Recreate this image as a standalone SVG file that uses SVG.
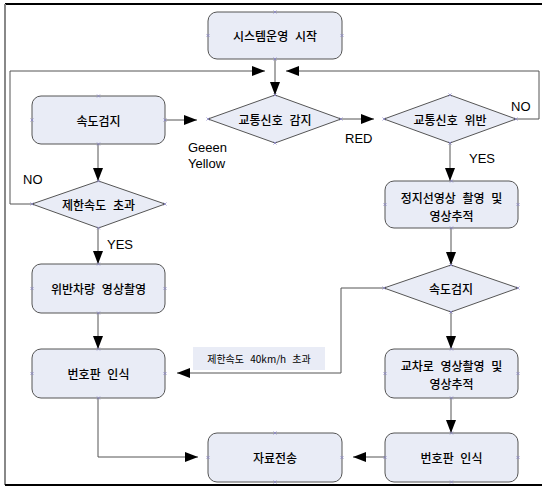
<svg xmlns="http://www.w3.org/2000/svg" xmlns:xlink="http://www.w3.org/1999/xlink" width="542" height="489" viewBox="0 0 542 489">
<style>
.node{fill:#e9ecf6;stroke:#555;stroke-width:1}
.kt{font-family:"Noto Sans CJK KR","Liberation Sans",sans-serif;font-size:12px;font-weight:500;word-spacing:4px;fill:#000;text-anchor:middle;dominant-baseline:central}
.lbl{font-family:"Liberation Sans",Arial,sans-serif;font-size:13px;fill:#000}
.conn{fill:none;stroke:#555;stroke-width:1}
.cp{stroke:#8a86c4;stroke-width:0.8;fill:none}
</style>
<defs>
<marker id="ah" markerUnits="userSpaceOnUse" markerWidth="13" markerHeight="10" refX="13" refY="5" orient="auto">
<path d="M0,0 L13,5 L0,10 z" fill="#000"/>
</marker>
<g id="x"><path class="cp" d="M-1.5,-1.5 L1.5,1.5 M-1.5,1.5 L1.5,-1.5"/></g>
</defs>
<g id="frame">
<line x1="5" y1="4" x2="542" y2="4" stroke="#000" stroke-width="2"/>
<line x1="5" y1="4" x2="5" y2="485" stroke="#888" stroke-width="2"/>
<line x1="5" y1="485" x2="542" y2="485" stroke="#000" stroke-width="2"/>
</g>
<g id="connectors">
<path class="conn" d="M275,59 V95" marker-end="url(#ah)"/>
<path class="conn" d="M32,204 H10 V71 H265" marker-end="url(#ah)"/>
<path class="conn" d="M516,119 H539 V71 H286" marker-end="url(#ah)"/>
<path class="conn" d="M165,120 H197" marker-end="url(#ah)"/>
<path class="conn" d="M341,119 H374" marker-end="url(#ah)"/>
<path class="conn" d="M98,144 V181" marker-end="url(#ah)"/>
<path class="conn" d="M98,228 V264" marker-end="url(#ah)"/>
<path class="conn" d="M98,313 V349" marker-end="url(#ah)"/>
<path class="conn" d="M98,398 V457 H198" marker-end="url(#ah)"/>
<path class="conn" d="M450,143 V181" marker-end="url(#ah)"/>
<path class="conn" d="M451,228 V265" marker-end="url(#ah)"/>
<path class="conn" d="M384,288 H341 V373 H177" marker-end="url(#ah)"/>
<path class="conn" d="M451,312 V349" marker-end="url(#ah)"/>
<path class="conn" d="M451,398 V433" marker-end="url(#ah)"/>
<path class="conn" d="M385,457 H353" marker-end="url(#ah)"/>
</g>
<g id="labels">
<text class="lbl" x="188" y="152">Geeen</text>
<text class="lbl" x="188" y="168">Yellow</text>
<text class="lbl" x="23" y="184">NO</text>
<text class="lbl" x="107" y="249">YES</text>
<text class="lbl" x="345" y="143">RED</text>
<text class="lbl" x="511" y="111">NO</text>
<text class="lbl" x="469" y="163">YES</text>
</g>
<g id="n-start">
<rect class="node" x="208" y="12" width="134" height="47" rx="9"/>
<text class="kt" x="275" y="35.5">시스템운영 시작</text>
<use xlink:href="#x" x="275" y="12"/><use xlink:href="#x" x="275" y="59"/><use xlink:href="#x" x="208" y="35.5"/><use xlink:href="#x" x="342" y="35.5"/>
</g>
<g id="n-speed1">
<rect class="node" x="32" y="96" width="133" height="48" rx="9"/>
<text class="kt" x="98.5" y="120">속도검지</text>
<use xlink:href="#x" x="98.5" y="96"/><use xlink:href="#x" x="98.5" y="144"/><use xlink:href="#x" x="32" y="120"/><use xlink:href="#x" x="165" y="120"/>
</g>
<g id="n-signal">
<polygon class="node" points="208,119 275,95 341,119 275,143"/>
<text class="kt" x="275" y="119">교통신호 감지</text>
<use xlink:href="#x" x="275" y="95"/><use xlink:href="#x" x="275" y="143"/><use xlink:href="#x" x="208" y="119"/><use xlink:href="#x" x="341" y="119"/>
</g>
<g id="n-violation">
<polygon class="node" points="384,119 450,95 516,119 450,143"/>
<text class="kt" x="450" y="119">교통신호 위반</text>
<use xlink:href="#x" x="450" y="95"/><use xlink:href="#x" x="450" y="143"/><use xlink:href="#x" x="384" y="119"/><use xlink:href="#x" x="516" y="119"/>
</g>
<g id="n-limit">
<polygon class="node" points="32,204 98.5,181 165,204 98.5,228"/>
<text class="kt" x="98.5" y="204">제한속도 초과</text>
<use xlink:href="#x" x="98.5" y="181"/><use xlink:href="#x" x="98.5" y="228"/><use xlink:href="#x" x="32" y="204"/><use xlink:href="#x" x="165" y="204"/>
</g>
<g id="n-stopline">
<rect class="node" x="385" y="181" width="133" height="47" rx="9"/>
<text class="kt" x="451.5" y="197">정지선영상 촬영 및</text>
<text class="kt" x="451.5" y="215">영상추적</text>
<use xlink:href="#x" x="451.5" y="181"/><use xlink:href="#x" x="451.5" y="228"/><use xlink:href="#x" x="385" y="204.5"/><use xlink:href="#x" x="518" y="204.5"/>
</g>
<g id="n-capture">
<rect class="node" x="32" y="264" width="133" height="49" rx="9"/>
<text class="kt" x="98.5" y="288.5">위반차량 영상촬영</text>
<use xlink:href="#x" x="98.5" y="264"/><use xlink:href="#x" x="98.5" y="313"/><use xlink:href="#x" x="32" y="288.5"/><use xlink:href="#x" x="165" y="288.5"/>
</g>
<g id="n-speed2">
<polygon class="node" points="384,288 451,265 518,288 451,312"/>
<text class="kt" x="451" y="288">속도검지</text>
<use xlink:href="#x" x="451" y="265"/><use xlink:href="#x" x="451" y="312"/><use xlink:href="#x" x="384" y="288"/><use xlink:href="#x" x="518" y="288"/>
</g>
<g id="n-plate1">
<rect class="node" x="32" y="349" width="133" height="49" rx="9"/>
<text class="kt" x="98.5" y="373.5">번호판 인식</text>
<use xlink:href="#x" x="98.5" y="349"/><use xlink:href="#x" x="98.5" y="398"/><use xlink:href="#x" x="32" y="373.5"/><use xlink:href="#x" x="165" y="373.5"/>
</g>
<g id="n-speednote">
<rect x="193" y="347" width="132" height="23" fill="#e9ecf6"/>
<text class="kt" x="259" y="358.5" style="font-size:10px;font-weight:normal">제한속도 40km/h 초과</text>
</g>
<g id="n-cross">
<rect class="node" x="385" y="349" width="133" height="49" rx="9"/>
<text class="kt" x="451.5" y="365">교차로 영상촬영 및</text>
<text class="kt" x="451.5" y="383">영상추적</text>
<use xlink:href="#x" x="451.5" y="349"/><use xlink:href="#x" x="451.5" y="398"/><use xlink:href="#x" x="385" y="373.5"/><use xlink:href="#x" x="518" y="373.5"/>
</g>
<g id="n-data">
<rect class="node" x="208" y="433" width="134" height="49" rx="9"/>
<text class="kt" x="275" y="457.5">자료전송</text>
<use xlink:href="#x" x="275" y="433"/><use xlink:href="#x" x="275" y="482"/><use xlink:href="#x" x="208" y="457.5"/><use xlink:href="#x" x="342" y="457.5"/>
</g>
<g id="n-plate2">
<rect class="node" x="385" y="433" width="133" height="49" rx="9"/>
<text class="kt" x="451.5" y="457.5">번호판 인식</text>
<use xlink:href="#x" x="451.5" y="433"/><use xlink:href="#x" x="451.5" y="482"/><use xlink:href="#x" x="385" y="457.5"/><use xlink:href="#x" x="518" y="457.5"/>
</g>
</svg>
